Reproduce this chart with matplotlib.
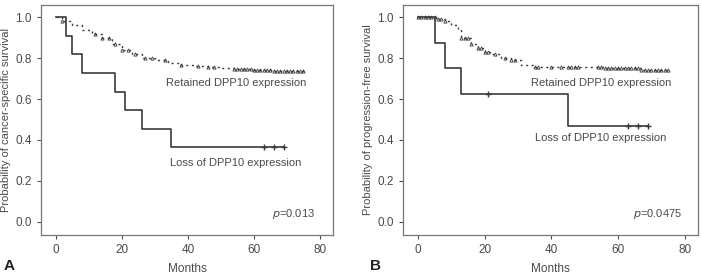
import matplotlib
matplotlib.use("Agg")
import matplotlib.pyplot as plt

plt.rcParams["font.family"] = ["Liberation Sans", "DejaVu Sans"]

# Panel A: cancer-specific survival
a_loss_t = [0, 3, 5, 8, 18, 21, 26, 35, 69]
a_loss_s = [1.0, 0.909, 0.818, 0.727, 0.636, 0.545, 0.455, 0.364, 0.364]
a_loss_cens = [63, 66, 69]

a_ret_t = [0, 2, 5, 8, 11, 14, 17, 20, 23, 26, 30, 34, 38, 42, 46, 50, 54, 60, 66, 76]
a_ret_s = [1.0, 0.98, 0.96, 0.94, 0.92, 0.90, 0.87, 0.84, 0.82, 0.80, 0.79, 0.775,
           0.765, 0.76, 0.755, 0.75, 0.745, 0.742, 0.735, 0.735]
a_ret_cens = [2, 12, 14, 16, 18, 20, 22, 24, 27, 29, 33, 38, 43, 46, 48, 54, 55, 56,
              57, 58, 59, 60, 61, 62, 63, 64, 65, 66, 67, 68, 69, 70, 71, 72, 73, 74, 75]

# Panel B: progression-free survival
b_loss_t = [0, 5, 8, 13, 45, 69]
b_loss_s = [1.0, 0.875, 0.75, 0.625, 0.47, 0.47]
b_loss_cens = [21, 63, 66, 69]

b_ret_t = [0, 5, 6, 8, 10, 12, 13, 16, 18, 20, 22, 25, 28, 31, 35, 55, 56, 67, 75]
b_ret_s = [1.0, 1.0, 0.99, 0.98, 0.96, 0.94, 0.90, 0.87, 0.85, 0.83, 0.82, 0.80,
           0.79, 0.765, 0.755, 0.755, 0.75, 0.74, 0.74]
b_ret_cens = [0, 1, 2, 3, 4, 5, 6, 7, 8, 13, 14, 15, 16, 18, 19, 20, 21, 23, 26, 28, 29,
              35, 36, 40, 43, 45, 46, 47, 48, 54, 55, 56, 57, 58, 59, 60, 61, 62, 63,
              64, 65, 66, 67, 68, 69, 70, 71, 72, 73, 74, 75]

GREY = "#4a4a4a"
LINE = "#3a3a3a"
FS = 8


def surv_at(ts, ss, t):
    val = ss[0]
    for ti, si in zip(ts, ss):
        if ti <= t:
            val = si
    return val


def draw_panel(ax, loss_t, loss_s, loss_c, ret_t, ret_s, ret_c, ylabel, ptext,
               ret_xy, loss_xy, p_xy):
    ax.step(ret_t, ret_s, where="post", color=LINE, lw=1.0, ls=(0, (1.5, 2.5)))
    ax.plot(ret_c, [surv_at(ret_t, ret_s, c) for c in ret_c], ls="none",
            marker="^", ms=2.3, mfc="none", mec=LINE, mew=0.6)
    ax.step(loss_t, loss_s, where="post", color=LINE, lw=1.2)
    ax.plot(loss_c, [surv_at(loss_t, loss_s, c) for c in loss_c], ls="none",
            marker="+", ms=4, mec=LINE, mew=1.0)

    ax.set_xlim(-4.5, 84)
    ax.set_ylim(-0.065, 1.06)
    ax.set_xticks([0, 20, 40, 60, 80])
    ax.set_yticks([0.0, 0.2, 0.4, 0.6, 0.8, 1.0])
    ax.set_yticklabels(["0.0", "0.2", "0.4", "0.6", "0.8", "1.0"])
    ax.tick_params(colors=GREY, labelsize=8.5, length=3, width=0.8)
    for sp in ax.spines.values():
        sp.set_color("#777777")
        sp.set_linewidth(0.9)
    ax.set_xlabel("Months", color=GREY, fontsize=8.5, labelpad=5)
    ax.set_ylabel(ylabel, color=GREY, fontsize=FS, labelpad=3)

    ax.text(ret_xy[0], ret_xy[1], "Retained DPP10 expression", color=GREY,
            fontsize=FS, va="center")
    ax.text(loss_xy[0], loss_xy[1], "Loss of DPP10 expression", color=GREY,
            fontsize=FS, va="center")
    ax.text(p_xy[0], p_xy[1], ptext, color=GREY, fontsize=FS, va="center")


fig = plt.figure(figsize=(7.01, 2.76), dpi=100)
ax_a = fig.add_axes([41 / 701, 1 - 235 / 276, 292 / 701, 230 / 276])
ax_b = fig.add_axes([403 / 701, 1 - 235 / 276, 295 / 701, 230 / 276])

draw_panel(ax_a, a_loss_t, a_loss_s, a_loss_cens, a_ret_t, a_ret_s, a_ret_cens,
           "Probability of cancer-specific survival", "$p$=0.013",
           (33.5, 0.68), (34.5, 0.287), (65.5, 0.04))
draw_panel(ax_b, b_loss_t, b_loss_s, b_loss_cens, b_ret_t, b_ret_s, b_ret_cens,
           "Probability of progression-free survival", "$p$=0.0475",
           (34, 0.68), (35, 0.41), (64.5, 0.04))

fig.text(4 / 701, 1 - 266 / 276, "A", fontsize=11, fontweight="bold",
         color="#222222", va="center")
fig.text(370 / 701, 1 - 266 / 276, "B", fontsize=11, fontweight="bold",
         color="#222222", va="center")

fig.savefig("out.png", dpi=100)
